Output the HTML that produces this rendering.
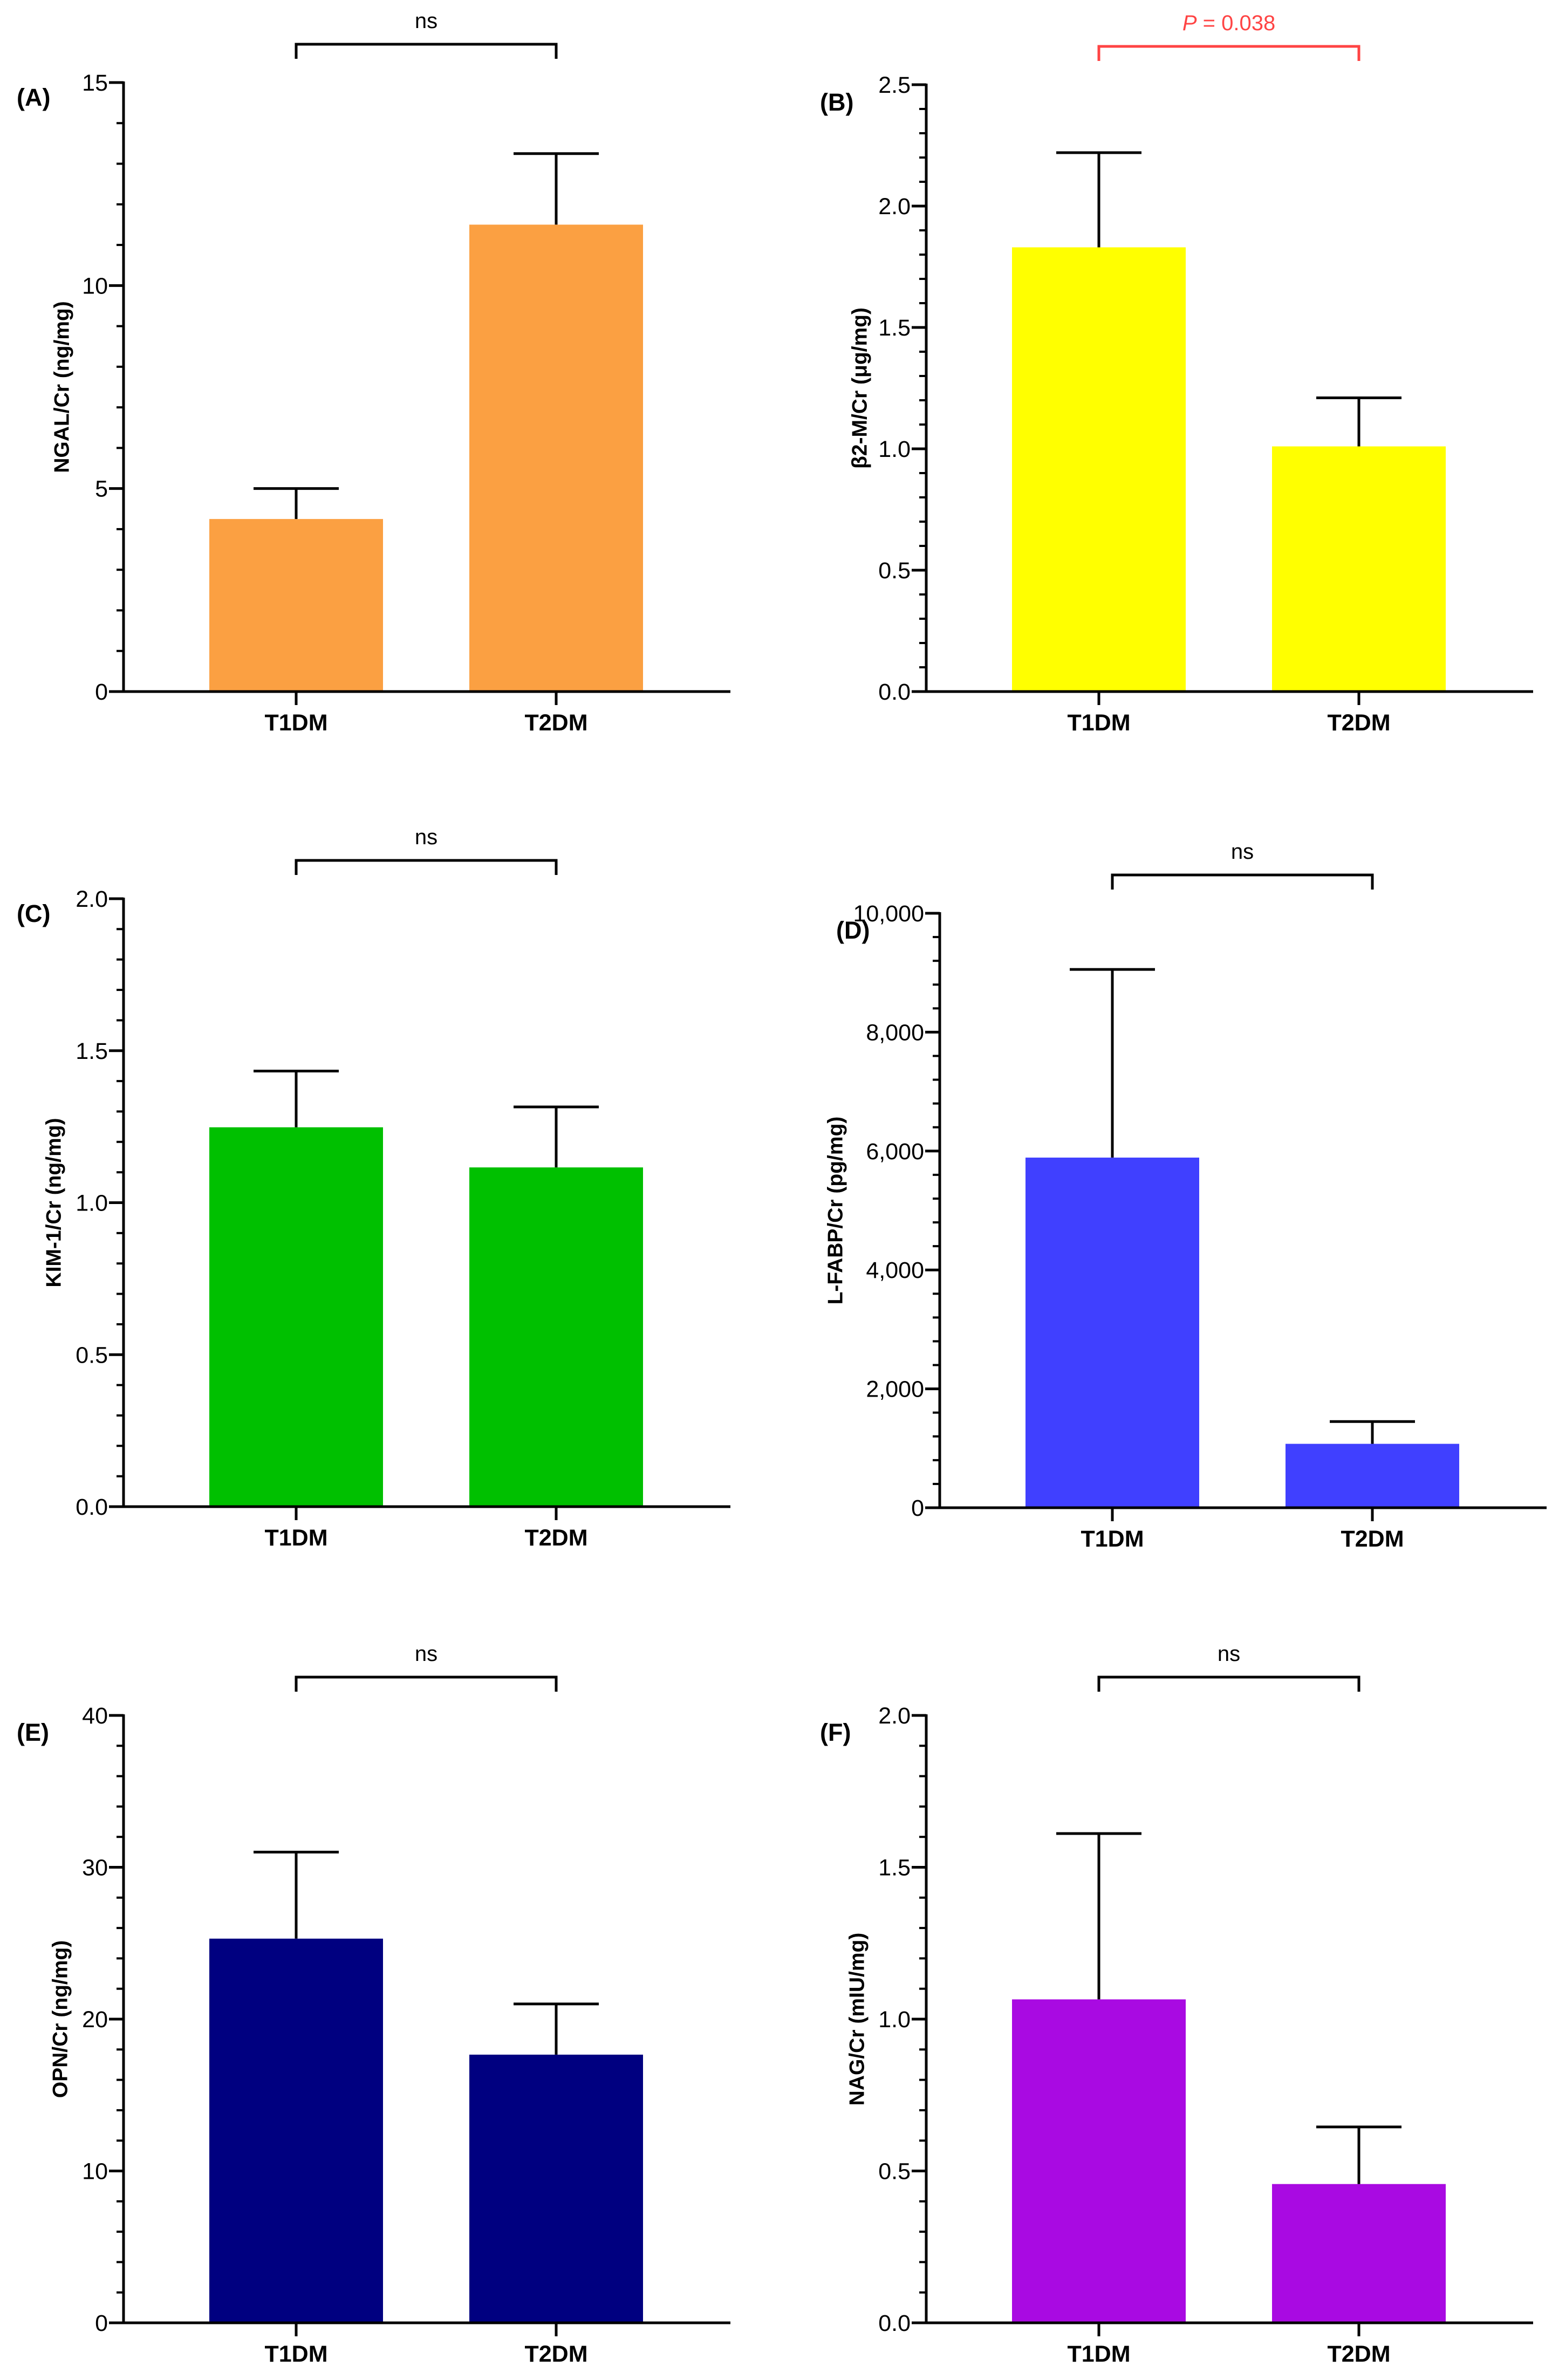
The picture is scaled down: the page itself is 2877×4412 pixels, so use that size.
<!DOCTYPE html>
<html><head><meta charset="utf-8"><style>
html,body{margin:0;padding:0;background:#fff}
svg{display:block}
text{font-family:"Liberation Sans",Arial,sans-serif}
</style></head><body>
<svg id="fig" width="2877" height="4412" viewBox="0 0 2877 4412" xmlns="http://www.w3.org/2000/svg"></svg>
<script>
const categories = ['T1DM', 'T2DM'];
const ngalMeans = [4.25, 11.5];
const ngalErrors = [5.0, 13.25];
const ngalTicks = [0, 5, 10, 15];
const b2mMeans = [1.83, 1.01];
const b2mErrors = [2.22, 1.21];
const b2mTicks = [0, 0.5, 1.0, 1.5, 2.0, 2.5];
const kimMeans = [1.248, 1.116];
const kimErrors = [1.433, 1.315];
const kimTicks = [0, 0.5, 1.0, 1.5, 2.0];
const lfabpMeans = [5890, 1075];
const lfabpErrors = [9055, 1450];
const lfabpTicks = [0, 2000, 4000, 6000, 8000, 10000];
const opnMeans = [25.3, 17.66];
const opnErrors = [31.0, 21.0];
const opnTicks = [0, 10, 20, 30, 40];
const nagMeans = [1.065, 0.457];
const nagErrors = [1.611, 0.645];
const nagTicks = [0, 0.5, 1.0, 1.5, 2.0];

const NS = 'http://www.w3.org/2000/svg';
const svg = document.getElementById('fig');
function mk(tag, attrs, parent) {
  const e = document.createElementNS(NS, tag);
  for (const k in attrs) e.setAttribute(k, attrs[k]);
  (parent || svg).appendChild(e);
  return e;
}
function fmt(v, dec, comma) {
  if (comma) return v.toLocaleString('en-US');
  return v.toFixed(dec);
}
const panels = [
  {id:'a', label:'(A)', title:'NGAL/Cr (ng/mg)', means:ngalMeans, errs:ngalErrors, ticks:ngalTicks, minor:1, dec:0, color:'#FBA042',
   ax:229, top:153, zero:1282, lx:31, ly:180, tx:115, sig:'ns', sigColor:'#000'},
  {id:'b', label:'(B)', title:'β2-M/Cr (μg/mg)', means:b2mMeans, errs:b2mErrors, ticks:b2mTicks, minor:0.1, dec:1, color:'#FFFF00',
   ax:1717, top:157, zero:1282, lx:1520, ly:189, tx:1594, sig:'P', sigColor:'#FF4444'},
  {id:'c', label:'(C)', title:'KIM-1/Cr (ng/mg)', means:kimMeans, errs:kimErrors, ticks:kimTicks, minor:0.1, dec:1, color:'#00C000',
   ax:229, top:1666, zero:2793, lx:31, ly:1693, tx:100, sig:'ns', sigColor:'#000'},
  {id:'d', label:'(D)', title:'L-FABP/Cr (pg/mg)', means:lfabpMeans, errs:lfabpErrors, ticks:lfabpTicks, minor:400, dec:0, comma:true, color:'#4040FF',
   ax:1742, top:1693, zero:2795, lx:1550, ly:1724, tx:1549, sig:'ns', sigColor:'#000'},
  {id:'e', label:'(E)', title:'OPN/Cr (ng/mg)', means:opnMeans, errs:opnErrors, ticks:opnTicks, minor:2, dec:0, color:'#000080',
   ax:229, top:3180, zero:4306, lx:31, ly:3211, tx:112, sig:'ns', sigColor:'#000'},
  {id:'f', label:'(F)', title:'NAG/Cr (mIU/mg)', means:nagMeans, errs:nagErrors, ticks:nagTicks, minor:0.1, dec:1, color:'#A90AE2',
   ax:1717, top:3180, zero:4306, lx:1520, ly:3211, tx:1589, sig:'ns', sigColor:'#000'}
];

panels.forEach(p => {
  const g = mk('g', {});
  
  
  const ymax = p.ticks[p.ticks.length - 1];
  const yScale = v => p.zero - (v / ymax) * (p.zero - p.top);
  const xScale = i => p.ax + 320 + i * 482;
  const bw = 322;

  // bars + error bars
  p.means.forEach((m, i) => {
    const cx = xScale(i);
    const r = mk('rect', {x: cx - bw/2, y: yScale(m), width: bw, height: p.zero - yScale(m), fill: p.color}, g);
    
    
    const eg = mk('g', {stroke:'#000', 'stroke-width':5, fill:'none'}, g);
    
    
    mk('line', {x1:cx, x2:cx, y1:yScale(m), y2:yScale(p.errs[i])}, eg);
    mk('line', {x1:cx - 79, x2:cx + 79, y1:yScale(p.errs[i]), y2:yScale(p.errs[i])}, eg);
  });

  // axes
  const axg = mk('g', {stroke:'#000', 'stroke-width':5, fill:'none'}, g);
  
  
  mk('line', {x1:p.ax, x2:p.ax, y1:p.top - 2, y2:p.zero + 2}, axg);
  mk('line', {x1:p.ax - 27, x2:p.ax + 1125, y1:p.zero, y2:p.zero}, axg);
  const nMinor = Math.round(ymax / p.minor);
  for (let k = 1; k < nMinor; k++) {
    const v = k * p.minor;
    mk('line', {x1:p.ax - 13, x2:p.ax, y1:yScale(v), y2:yScale(v), 'stroke-width':4}, axg);
  }
  p.ticks.forEach(t => {
    mk('line', {x1:p.ax - 27, x2:p.ax, y1:yScale(t), y2:yScale(t)}, axg);
    const tl = mk('text', {x:p.ax - 29, y:yScale(t) + 15, 'text-anchor':'end', 'font-size':43, fill:'#000'}, g);
    
    
    tl.textContent = fmt(t, p.dec, p.comma);
  });
  categories.forEach((c, i) => {
    mk('line', {x1:xScale(i), x2:xScale(i), y1:p.zero, y2:p.zero + 25}, axg);
    const cl = mk('text', {x:xScale(i), y:p.zero + 72, 'text-anchor':'middle', 'font-size':43, 'font-weight':'bold', fill:'#000'}, g);
    
    
    cl.textContent = c;
  });

  // y title
  const my = (p.top + p.zero) / 2;
  const yt = mk('text', {x:p.tx, y:my, transform:'rotate(-90 ' + p.tx + ' ' + my + ')', 'text-anchor':'middle', 'dominant-baseline':'central', 'font-size':39, 'font-weight':'bold', fill:'#000'}, g);
  
  
  yt.textContent = p.title;

  // panel label
  const pl = mk('text', {x:p.lx, y:p.ly + 16, 'font-size':45, 'font-weight':'bold', fill:'#000'}, g);
  
  
  pl.textContent = p.label;

  // significance bracket
  const by = p.top - 71;
  const x0 = xScale(0), x1 = xScale(1);
  const br = mk('path', {d:'M' + x0 + ' ' + (by + 27) + 'V' + by + 'H' + x1 + 'V' + (by + 27), stroke:p.sigColor, 'stroke-width':5, fill:'none'}, g);
  
  
  const st = mk('text', {x:(x0 + x1) / 2, y:by - 30, 'text-anchor':'middle', 'font-size':40, fill:p.sigColor}, g);
  
  
  if (p.sig === 'P') {
    const ts = mk('tspan', {'font-style':'italic'}, st);
    ts.textContent = 'P';
    const t2 = mk('tspan', {}, st);
    t2.textContent = ' = 0.038';
  } else {
    st.textContent = 'ns';
  }
});
</script>
</body></html>
